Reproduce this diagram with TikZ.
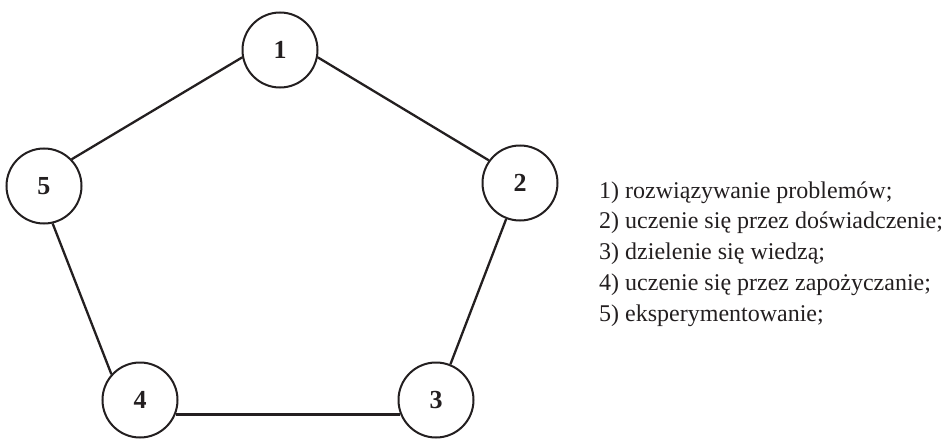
\documentclass[tikz,border=0pt]{standalone}
\usepackage{fontspec}
\setmainfont{Liberation Serif}
\definecolor{ink}{HTML}{231F20}
\begin{document}
\begin{tikzpicture}[x=1pt,y=-1pt,
  numnode/.style={circle,draw=ink,line width=2pt,minimum size=75pt,inner sep=0pt,text=ink,font=\fontsize{26}{26}\selectfont\bfseries},
  edge/.style={draw=ink,line width=2.3pt},
  legend/.style={anchor=base west,inner sep=0pt,font=\fontsize{24}{24}\selectfont,text=ink}]
\useasboundingbox (0,0) rectangle (946,439);
\node[numnode] (n1) at (280,50) {1};
\node[numnode] (n2) at (520,183) {2};
\node[numnode] (n3) at (436,400) {3};
\node[numnode] (n4) at (140,400) {4};
\node[numnode] (n5) at (44,186) {5};
\draw[edge] (n1.191) -- (n5.44);
\draw[edge] (n1.349) -- (n2.144);
\draw[edge] (n2.249) -- (n3.68);
\draw[edge] (n3.202) -- (n4.338);
\draw[edge] (n4.138) -- (n5.283);
\node[legend] (t1) at (599,198) {1) rozwiązywanie problemów;};
\node[legend] (t2) at (599,228.75) {2) uczenie się przez doświadczenie;};
\node[legend] (t3) at (599,259.5) {3) dzielenie się wiedzą;};
\node[legend] (t4) at (599,290.25) {4) uczenie się przez zapożyczanie;};
\node[legend] (t5) at (599,321) {5) eksperymentowanie;};
\end{tikzpicture}
\end{document}
